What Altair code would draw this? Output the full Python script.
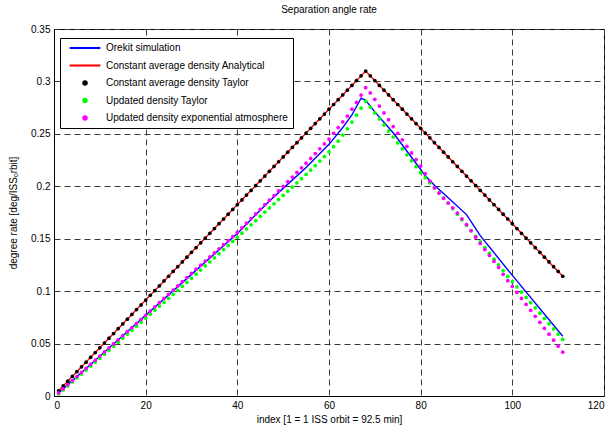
import altair as alt
import pandas as pd

FONT = "Liberation Sans"

# ---------------- data ----------------
index = list(range(1, 112))

# Constant average density (Analytical line and Taylor dots coincide)
const_density = [
    0.0050, 0.0096, 0.0141, 0.0187, 0.0232, 0.0278, 0.0323, 0.0369, 0.0414, 0.0460,
    0.0505, 0.0551, 0.0596, 0.0642, 0.0687, 0.0733, 0.0778, 0.0824, 0.0869, 0.0915,
    0.0960, 0.1006, 0.1051, 0.1097, 0.1142, 0.1188, 0.1233, 0.1279, 0.1324, 0.1370,
    0.1415, 0.1461, 0.1506, 0.1552, 0.1597, 0.1643, 0.1688, 0.1734, 0.1779, 0.1825,
    0.1870, 0.1916, 0.1961, 0.2007, 0.2052, 0.2098, 0.2143, 0.2189, 0.2234, 0.2280,
    0.2325, 0.2371, 0.2416, 0.2462, 0.2507, 0.2553, 0.2598, 0.2644, 0.2689, 0.2735,
    0.2780, 0.2826, 0.2871, 0.2917, 0.2962, 0.3008, 0.3053, 0.3099, 0.3053, 0.3008,
    0.2962, 0.2917, 0.2871, 0.2826, 0.2780, 0.2735, 0.2689, 0.2644, 0.2598, 0.2553,
    0.2507, 0.2462, 0.2416, 0.2371, 0.2325, 0.2280, 0.2234, 0.2189, 0.2143, 0.2098,
    0.2052, 0.2007, 0.1961, 0.1916, 0.1870, 0.1825, 0.1779, 0.1734, 0.1688, 0.1643,
    0.1597, 0.1552, 0.1506, 0.1461, 0.1415, 0.1370, 0.1324, 0.1279, 0.1233, 0.1188,
    0.1142,
]

updated_taylor = [
    0.0020, 0.0058, 0.0096, 0.0134, 0.0172, 0.0209, 0.0247, 0.0285, 0.0323, 0.0361,
    0.0399, 0.0437, 0.0475, 0.0513, 0.0551, 0.0589, 0.0627, 0.0665, 0.0703, 0.0742,
    0.0780, 0.0818, 0.0856, 0.0894, 0.0932, 0.0970, 0.1008, 0.1046, 0.1084, 0.1123,
    0.1162, 0.1201, 0.1240, 0.1279, 0.1318, 0.1357, 0.1396, 0.1435, 0.1474, 0.1513,
    0.1553, 0.1593, 0.1633, 0.1673, 0.1713, 0.1753, 0.1793, 0.1833, 0.1873, 0.1913,
    0.1953, 0.1993, 0.2033, 0.2073, 0.2113, 0.2155, 0.2197, 0.2240, 0.2283, 0.2328,
    0.2378, 0.2430, 0.2488, 0.2548, 0.2612, 0.2678, 0.2745, 0.2810, 0.2755, 0.2700,
    0.2642, 0.2585, 0.2527, 0.2470, 0.2413, 0.2357, 0.2300, 0.2243, 0.2187, 0.2130,
    0.2082, 0.2033, 0.1985, 0.1937, 0.1888, 0.1840, 0.1787, 0.1734, 0.1681, 0.1629,
    0.1576, 0.1523, 0.1470, 0.1415, 0.1360, 0.1305, 0.1250, 0.1195, 0.1140, 0.1090,
    0.1040, 0.0990, 0.0940, 0.0890, 0.0840, 0.0790, 0.0740, 0.0690, 0.0640, 0.0590,
    0.0540,
]

updated_exp = [
    0.0030, 0.0069, 0.0108, 0.0147, 0.0186, 0.0225, 0.0264, 0.0303, 0.0342, 0.0381,
    0.0420, 0.0458, 0.0497, 0.0536, 0.0575, 0.0614, 0.0653, 0.0692, 0.0731, 0.0770,
    0.0810, 0.0850, 0.0890, 0.0930, 0.0970, 0.1010, 0.1050, 0.1090, 0.1130, 0.1170,
    0.1209, 0.1248, 0.1287, 0.1326, 0.1365, 0.1404, 0.1443, 0.1482, 0.1521, 0.1560,
    0.1604, 0.1648, 0.1692, 0.1736, 0.1780, 0.1824, 0.1868, 0.1912, 0.1956, 0.2000,
    0.2044, 0.2088, 0.2132, 0.2176, 0.2220, 0.2266, 0.2312, 0.2358, 0.2404, 0.2450,
    0.2505, 0.2560, 0.2615, 0.2670, 0.2735, 0.2800, 0.2870, 0.2940, 0.2890, 0.2830,
    0.2765, 0.2700, 0.2635, 0.2570, 0.2505, 0.2443, 0.2380, 0.2318, 0.2255, 0.2193,
    0.2120, 0.2050, 0.1985, 0.1935, 0.1885, 0.1840, 0.1795, 0.1745, 0.1690, 0.1635,
    0.1575, 0.1515, 0.1455, 0.1396, 0.1340, 0.1283, 0.1226, 0.1160, 0.1100, 0.1045,
    0.0988, 0.0931, 0.0874, 0.0817, 0.0760, 0.0703, 0.0646, 0.0589, 0.0532, 0.0475,
    0.0418,
]

# Orekit simulation line (points read where the line bends)
orekit_index = [1, 10, 20, 30, 40, 47, 50, 55, 60, 63, 65, 67, 68, 70, 74,
                80, 81, 83, 86, 90, 93, 100, 111]
orekit_rate = [0.003, 0.038, 0.077, 0.116, 0.155, 0.186, 0.198, 0.218, 0.240,
               0.256, 0.268, 0.284, 0.282, 0.271, 0.251, 0.216, 0.210, 0.201,
               0.189, 0.173, 0.153, 0.115, 0.057]

names = [
    "Orekit simulation",
    "Constant average density Analytical",
    "Constant average density Taylor",
    "Updated density Taylor",
    "Updated density exponential atmosphere",
]
colors = ["#0000ff", "#ff0000", "#000000", "#00ff00", "#ff00ff"]
bar_path = "M-5.6,-0.38H5.6V0.38H-5.6Z"
shapes = [bar_path, bar_path, "circle", "circle", "circle"]

x_ticks = [0, 20, 40, 60, 80, 100, 120]
y_ticks = [0, 0.05, 0.1, 0.15, 0.2, 0.25, 0.3, 0.35]

# ---------------- tables ----------------
lines_df = pd.concat([
    pd.DataFrame({"index": orekit_index, "rate": orekit_rate,
                  "series": names[0], "col": colors[0]}),
    pd.DataFrame({"index": index, "rate": const_density,
                  "series": names[1], "col": colors[1]}),
], ignore_index=True)

points_df = pd.concat([
    pd.DataFrame({"index": index, "rate": const_density, "series": names[2]}),
    pd.DataFrame({"index": index, "rate": updated_taylor, "series": names[3]}),
    pd.DataFrame({"index": index, "rate": updated_exp, "series": names[4]}),
], ignore_index=True)

x_enc = alt.X("index:Q", scale=alt.Scale(domain=[0, 120], nice=False),
              axis=alt.Axis(values=x_ticks, title="index [1 = 1 ISS orbit = 92.5 min]",
                            format="d"))
y_enc = alt.Y("rate:Q", scale=alt.Scale(domain=[0, 0.35], nice=False),
              axis=alt.Axis(values=y_ticks, title="degree rate [deg/ISSₒrbit]",
                            format="~g"))

legend = alt.Legend(
    title=None, orient="none", legendX=6, legendY=9,
    strokeColor="#000000", fillColor="#ffffff", padding=5, cornerRadius=0,
    symbolSize=30, symbolOffset=15, labelOffset=16, rowPadding=7.5,
    labelFont=FONT, labelFontSize=10, labelLimit=400, labelColor="#000000",
    symbolStrokeWidth=0, symbolOpacity=1,
)

lines = alt.Chart(lines_df).mark_line(strokeWidth=1.4).encode(
    x=x_enc, y=y_enc,
    color=alt.Color("col:N", scale=None),
    detail="series:N",
    order="index:Q",
)

points = alt.Chart(points_df).mark_point(filled=True, size=14, opacity=1).encode(
    x=x_enc, y=y_enc,
    color=alt.Color("series:N", scale=alt.Scale(domain=names, range=colors), legend=legend),
    shape=alt.Shape("series:N", scale=alt.Scale(domain=names, range=shapes), legend=legend),
)

chart = alt.layer(lines, points).properties(
    width=550, height=367,
    autosize=alt.AutoSizeParams(type="none"),
    padding={"left": 54, "top": 29, "right": 7, "bottom": 36},
    title=alt.TitleParams("Separation angle rate", font=FONT, fontSize=10,
                          fontWeight="normal", anchor="middle", frame="group",
                          offset=9, color="#000000"),
    background="#ffffff",
).configure_view(
    stroke="#000000", strokeWidth=1,
).configure_axis(
    labelFont=FONT, labelFontSize=10, labelColor="#000000",
    titleFont=FONT, titleFontSize=10, titleFontWeight="normal", titleColor="#000000",
    domainColor="#000000", domainWidth=1,
    ticks=False, labelPadding=4,
    grid=True, gridColor="#3a3a3a", gridDash=[6, 4], gridWidth=1, gridOpacity=1,
).configure_axisX(
    titlePadding=4,
).configure_axisY(
    titlePadding=12,
)

chart.save("out.html", embed_options={"renderer": "svg", "actions": False})
